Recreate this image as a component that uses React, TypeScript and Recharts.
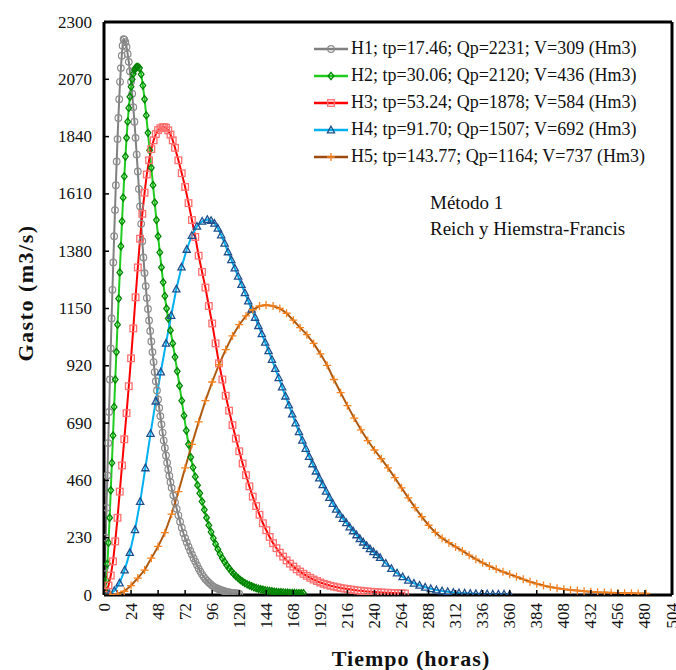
import { Legend, Line, LineChart, ReferenceLine, XAxis, YAxis } from "recharts";

const FONT = '"Liberation Serif", "Times New Roman", serif';

const xTicks = [0, 24, 48, 72, 96, 120, 144, 168, 192, 216, 240, 264, 288, 312, 336, 360, 384, 408, 432, 456, 480, 504];
const yTicks = [0, 230, 460, 690, 920, 1150, 1380, 1610, 1840, 2070, 2300];

// H1 - tp 17.46 h
const h1Hours = [
  0, 0.75, 1.5, 2.25, 3, 3.75, 4.5, 5.25, 6, 6.75, 7.5, 8.25, 9, 9.75, 10.5, 11.25, 12, 12.75, 13.5, 14.25, 15, 15.75, 16.5, 17.46,
  18, 19, 20, 21, 22, 23, 24, 25, 26, 27, 28, 29, 30, 31, 32, 33, 34, 35, 36, 37, 38, 39,
  40, 41, 42, 43, 44, 45, 46, 47, 48, 49, 50, 51, 52, 53, 54, 55, 56, 57, 58, 59, 60,
  61.5, 63, 64.5, 66, 67.5, 69, 70.5, 72, 73.5, 75, 76.5, 78, 79.5, 81, 82.5, 84, 85.5, 87, 88.5, 90,
  91.5, 93, 94.5, 96, 97.5, 99, 100.5, 102, 103.5, 105, 106.5, 108, 109.5, 111, 112.5, 114, 115.5, 117, 118.5, 120,
];
const h1Flow = [
  0, 110, 230, 350, 480, 610, 735, 865, 990, 1110, 1225, 1335, 1440, 1545, 1645, 1740, 1830, 1915, 1990, 2060, 2115, 2165, 2205, 2231,
  2229, 2219, 2200, 2172, 2140, 2102, 2060, 2012, 1958, 1900, 1835, 1768, 1700, 1630, 1560, 1490, 1420, 1355, 1292, 1240, 1192, 1148,
  1102, 1060, 1018, 975, 935, 895, 858, 821, 785, 751, 718, 685, 652, 620, 590, 560, 531, 504, 478, 453, 430,
  400, 372, 346, 320, 294, 270, 248, 228, 211, 194, 178, 163, 148, 134, 120, 106, 94, 83, 73, 64,
  57, 50, 44, 38, 33, 29, 26, 23, 20, 18, 16, 13, 12, 10, 9, 8, 7, 7, 6, 5,
];

// H2 - tp 30.06 h
const h2Hours = [
  0, 1, 2, 3, 4, 5, 6, 7, 8, 9, 10, 11, 12, 13, 14, 15, 16, 17, 18, 19, 20, 21, 22, 23, 24, 25, 26, 27, 28, 29, 30.06,
  31.5, 33, 34.5, 36, 37.5, 39, 40.5, 42, 43.5, 45, 46.5, 48, 49.5, 51, 52.5, 54, 55.5, 57,
  59, 61, 63, 65, 67, 69, 71, 73, 75, 77, 79, 81, 83, 85, 87, 89, 91, 93, 95, 97,
  99, 101, 103, 105, 107, 109, 111, 113, 115, 117, 119, 121, 123, 125, 127, 129, 131, 133, 135, 137,
  139, 141, 143, 145, 147, 149, 151, 153, 155, 157, 159, 161, 163, 165, 167, 169, 171, 173, 175, 177,
];
const h2Flow = [
  0, 20, 60, 125, 210, 310, 420, 530, 640, 755, 865, 975, 1085, 1190, 1295, 1400, 1500, 1595, 1680, 1760, 1835, 1900, 1955, 2000, 2040, 2070, 2092, 2107, 2116, 2119, 2120,
  2115, 2090, 2045, 1990, 1925, 1855, 1785, 1715, 1645, 1575, 1505, 1440, 1375, 1315, 1255, 1200, 1150, 1110,
  1062, 1010, 955, 898, 840, 780, 720, 660, 605, 553, 512, 475, 441, 408, 375, 342, 310, 280, 253, 228,
  205, 184, 165, 148, 133, 119, 107, 95, 85, 76, 68, 60, 54, 48, 43, 39, 35, 31, 28, 25,
  23, 21, 19, 17, 16, 15, 13, 12, 11, 11, 10, 9, 9, 8, 8, 8, 7, 7, 7, 7,
];

// H3 - tp 53.24 h
const h3Hours = [
  0, 2, 4, 6, 8, 10, 12, 14, 16, 18, 20, 22, 24, 26, 28, 30, 32, 34, 36, 38, 40, 42, 44, 46, 48, 50, 52, 53.24,
  55, 57, 59, 61, 63,
  66, 69, 72, 75, 78, 81, 84, 87, 90, 93, 96, 99, 102, 105, 108, 111, 114, 117, 120, 123, 126, 129, 132, 135, 138, 141,
  144, 147, 150, 153, 156, 159, 162, 165, 168, 171, 174, 177, 180, 183, 186, 189, 192, 195, 198, 201, 204, 207, 210, 213,
  216, 219, 222, 225, 228, 231, 234, 237, 240, 243, 246, 249, 252, 255, 258, 261, 264, 267,
];
const h3Flow = [
  0, 14, 38, 78, 135, 215, 310, 415, 520, 625, 730, 838, 950, 1070, 1195, 1315, 1430, 1530, 1615, 1688, 1745, 1790, 1825, 1850, 1866, 1874, 1877, 1878,
  1876, 1865, 1848, 1825, 1795,
  1745, 1693, 1638, 1573, 1505, 1437, 1362, 1297, 1234, 1160, 1090, 1010, 930, 865, 800, 740, 682, 628, 577, 528, 481, 436, 395, 357, 322, 288,
  260, 233, 208, 188, 170, 154, 139, 126, 114, 103, 94, 85, 77, 69, 62, 56, 50, 45, 41, 37, 34, 31, 28, 26,
  24, 22, 20, 18, 17, 15, 14, 13, 12, 11, 10, 9, 9, 8, 8, 7, 7, 6,
];

// H4 - tp 91.70 h
const h4Hours = [
  0, 4.6, 9.2, 13.8, 18.3, 22.9, 27.5, 32.1, 36.7, 41.3, 45.9, 50.4, 55, 59.6, 64.2, 68.8, 73.4, 78, 82.5, 87.1, 91.7,
  95, 98, 101, 104, 107, 110, 113, 116, 119, 122, 125, 128, 131, 134, 137, 140, 143, 146, 149, 152,
  155, 158, 161, 164, 167, 170, 173, 176, 179, 182, 185, 188, 191, 194, 197, 200, 203, 206, 209, 212,
  215, 218, 221, 224, 227, 230, 233, 236, 239, 242, 245,
  250, 255, 260, 265, 270, 275, 280, 285, 290, 295, 300, 305, 310, 315, 320, 325, 330, 335, 340, 345, 350, 355, 360,
];
const h4Flow = [
  0, 4, 17, 48, 100, 170, 262, 375, 510, 648, 778, 895, 1010, 1122, 1228, 1316, 1387, 1443, 1480, 1500, 1507,
  1503, 1492, 1472, 1445, 1412, 1377, 1345, 1312, 1279, 1246, 1213, 1180, 1147, 1114, 1081, 1048, 1014, 980, 945, 909,
  872, 835, 798, 762, 726, 690, 655, 621, 588, 556, 526, 497, 469, 442, 416, 391, 367, 344, 324, 307,
  290, 273, 257, 241, 226, 212, 198, 185, 173, 161, 150,
  127, 106, 88, 73, 59, 47, 39, 31, 25, 20, 16, 13, 10, 8, 7, 6, 5, 4, 4, 3, 3, 3, 2,
];

// H5 - tp 143.77 h
const h5Hours = [
  0, 6, 12, 18, 24, 30, 36, 42, 48, 54, 60, 66, 72, 78, 84, 90, 96, 102, 108, 114, 120, 126, 132, 138, 143.77,
  150, 156, 162, 168, 174, 180, 186, 192, 198, 204, 210, 216, 222, 228, 234, 240, 246, 252, 258, 264,
  270, 276, 282, 288, 294, 300, 306, 312, 318, 324, 330, 336, 342, 348, 354, 360, 366, 372, 378, 384,
  390, 396, 402, 408, 414, 420, 426, 432, 438, 444, 450, 456, 462, 468, 474, 481,
];
const h5Flow = [
  0, 1, 4, 15, 38, 68, 100, 148, 195, 250, 325, 415, 510, 605, 695, 780, 855, 925, 985, 1040, 1085, 1120, 1145, 1160, 1164,
  1160, 1150, 1131, 1103, 1073, 1045, 1010, 968, 922, 865, 812, 760, 710, 663, 620, 582, 547, 510, 471, 430,
  390, 351, 314, 280, 251, 228, 210, 193, 177, 160, 144, 129, 116, 104, 93, 83, 73, 63, 53, 45,
  38, 32, 27, 23, 20, 18, 15, 13, 11, 10, 9, 8, 7, 7, 6, 6,
];

type Shape = "circle" | "diamond" | "square" | "triangle" | "plus";

const series = [
  { key: "h1", label: "H1; tp=17.46; Qp=2231; V=309 (Hm3)", hours: h1Hours, flow: h1Flow, line: "#808080", legendLine: "#808080", mark: "#8c8c8c", shape: "circle" as Shape },
  { key: "h2", label: "H2; tp=30.06; Qp=2120; V=436 (Hm3)", hours: h2Hours, flow: h2Flow, line: "#1fcc1f", legendLine: "#1fcc1f", mark: "#008200", shape: "diamond" as Shape },
  { key: "h3", label: "H3; tp=53.24; Qp=1878; V=584 (Hm3)", hours: h3Hours, flow: h3Flow, line: "#ff0000", legendLine: "#ff0000", mark: "#ff6f6f", shape: "square" as Shape },
  { key: "h4", label: "H4; tp=91.70; Qp=1507; V=692 (Hm3)", hours: h4Hours, flow: h4Flow, line: "#00b0f0", legendLine: "#00b0f0", mark: "#1f4e8c", shape: "triangle" as Shape },
  { key: "h5", label: "H5; tp=143.77; Qp=1164; V=737 (Hm3)", hours: h5Hours, flow: h5Flow, line: "#b05a10", legendLine: "#9c4a12", mark: "#f5821f", shape: "plus" as Shape },
];

function Marker({ shape, cx, cy, color }: { shape: Shape; cx: number; cy: number; color: string }) {
  if (cx == null || cy == null) return null;
  switch (shape) {
    case "circle":
      return <circle cx={cx} cy={cy} r={3.3} fill="none" stroke={color} strokeWidth={1.2} />;
    case "diamond":
      return (
        <path
          d={`M${cx},${cy - 3.6}L${cx + 2.8},${cy}L${cx},${cy + 3.6}L${cx - 2.8},${cy}Z`}
          fill="none"
          stroke={color}
          strokeWidth={1.3}
        />
      );
    case "square":
      return <rect x={cx - 3.3} y={cy - 3.3} width={6.6} height={6.6} fill="none" stroke={color} strokeWidth={1.3} />;
    case "triangle":
      return (
        <path
          d={`M${cx},${cy - 3.8}L${cx + 3.6},${cy + 2.8}L${cx - 3.6},${cy + 2.8}Z`}
          fill="none"
          stroke={color}
          strokeWidth={1.3}
        />
      );
    default:
      return (
        <path
          d={`M${cx - 4},${cy}H${cx + 4}M${cx},${cy - 4}V${cy + 4}`}
          stroke={color}
          strokeWidth={1.3}
        />
      );
  }
}

function XTick(props: any) {
  const { x, y, payload } = props;
  const axisY = y - 8;
  return (
    <g>
      <line x1={x} x2={x} y1={axisY} y2={axisY - 5} stroke="#000" strokeWidth={1.5} />
      <text
        transform={`translate(${x},${y}) rotate(-90)`}
        textAnchor="end"
        dominantBaseline="central"
        fontSize={17}
        fontFamily={FONT}
        fill="#111"
      >
        {payload.value}
      </text>
    </g>
  );
}

function YTick(props: any) {
  const { x, y, payload } = props;
  const axisX = x + 12;
  return (
    <g>
      <line x1={axisX} x2={axisX + 5} y1={y} y2={y} stroke="#000" strokeWidth={1.5} />
      <text x={x} y={y} textAnchor="end" dominantBaseline="central" fontSize={17} fontFamily={FONT} fill="#111">
        {payload.value}
      </text>
    </g>
  );
}

function LegendBox() {
  return (
    <div style={{ fontFamily: FONT, fontSize: 18, color: "#111" }}>
      {series.map((s) => (
        <div key={s.key} style={{ display: "flex", alignItems: "center", height: 27 }}>
          <svg width={36} height={14} style={{ flex: "none" }}>
            <line x1={1} y1={7} x2={35} y2={7} stroke={s.legendLine} strokeWidth={2.5} />
            <Marker shape={s.shape} cx={18} cy={7} color={s.mark} />
          </svg>
          <span style={{ marginLeft: 2, whiteSpace: "nowrap" }}>{s.label}</span>
        </div>
      ))}
    </div>
  );
}

export default function App() {
  return (
    <div style={{ position: "absolute", left: 0, top: 0, width: 676, height: 670, background: "#fff" }}>
      <LineChart width={676} height={670} margin={{ top: 22, right: 4, bottom: 0, left: 44 }}>
        <XAxis
          type="number"
          dataKey="t"
          domain={[0, 504]}
          ticks={xTicks}
          interval={0}
          height={75}
          tickSize={0}
          tickMargin={8}
          tick={<XTick />}
          axisLine={{ stroke: "#000", strokeWidth: 3 }}
          allowDataOverflow
        />
        <YAxis
          type="number"
          domain={[0, 2300]}
          ticks={yTicks}
          interval={0}
          width={60}
          tickSize={0}
          tickMargin={12}
          tick={<YTick />}
          axisLine={{ stroke: "#000", strokeWidth: 3 }}
          allowDataOverflow
        />
        <ReferenceLine y={2300} stroke="#000" strokeWidth={3} />
        <ReferenceLine x={504} stroke="#000" strokeWidth={3} />
        {series.map((s) => (
          <Line
            key={s.key}
            name={s.label}
            data={s.hours.map((t, i) => ({ t, q: s.flow[i] }))}
            dataKey="q"
            type="linear"
            stroke={s.line}
            strokeWidth={2}
            dot={(p: any) => <Marker key={`${s.key}-${p.index}`} shape={s.shape} cx={p.cx} cy={p.cy} color={s.mark} />}
            activeDot={false}
            isAnimationActive={false}
          />
        ))}
        <Legend
          content={() => <LegendBox />}
          layout="vertical"
          align="center"
          verticalAlign="middle"
          wrapperStyle={{ left: 313, top: 35, width: 362 }}
        />
      </LineChart>
      <svg
        width={676}
        height={670}
        style={{ position: "absolute", left: 0, top: 0, pointerEvents: "none" }}
        fontFamily={FONT}
      >
        <text transform="translate(33,293) rotate(-90)" textAnchor="middle" fontSize={22} fontWeight="bold" letterSpacing={1.5} fill="#111">
          Gasto (m3/s)
        </text>
        <text x={411} y={666} textAnchor="middle" fontSize={22} fontWeight="bold" letterSpacing={1} fill="#111">
          Tiempo (horas)
        </text>
        <text x={430} y={209} fontSize={19} fill="#111">
          Método 1
        </text>
        <text x={430} y={235} fontSize={19} fill="#111">
          Reich y Hiemstra-Francis
        </text>
      </svg>
    </div>
  );
}
